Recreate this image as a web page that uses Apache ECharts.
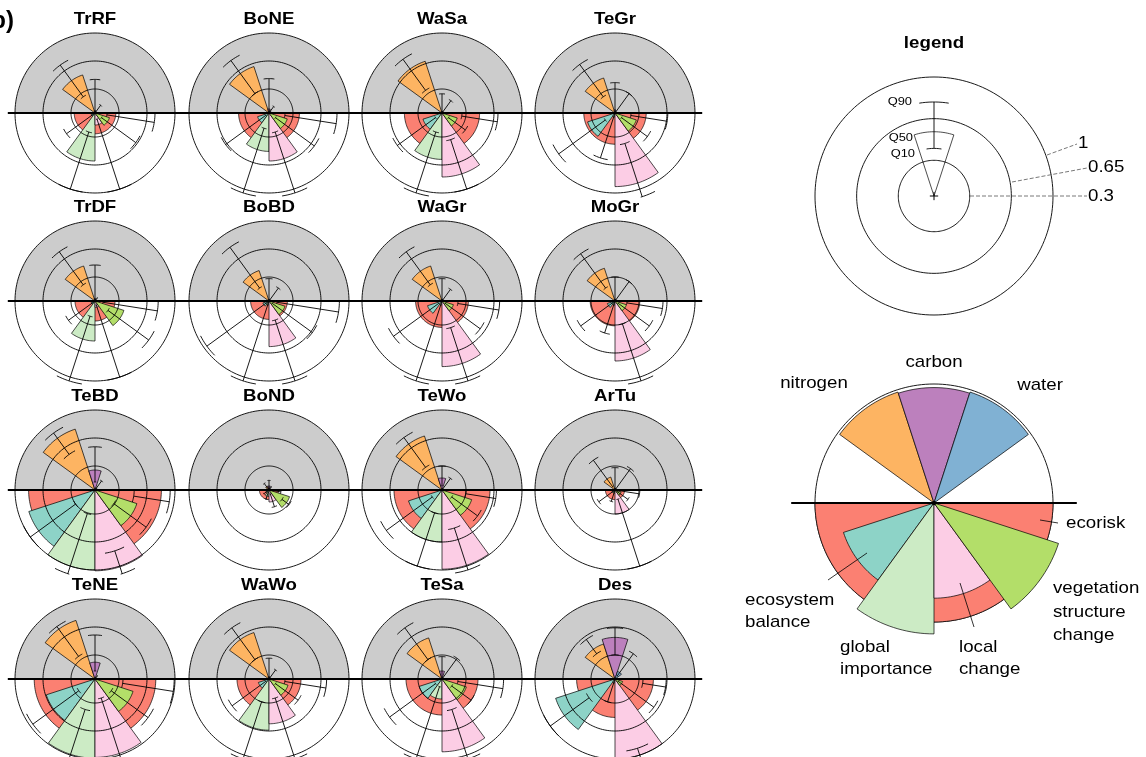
<!DOCTYPE html>
<html>
<head>
<meta charset="utf-8">
<script src="https://cdn.jsdelivr.net/npm/echarts@6/dist/echarts.min.js"></script>
<style>
html,body{margin:0;padding:0;background:#fff}
#main{width:1146px;height:757px}
</style>
</head>
<body>
<div id="main"></div>
<script>
// biomes, in panel order (row by row)
var biomes = ['TrRF','BoNE','WaSa','TeGr','TrDF','BoBD','WaGr','MoGr','TeBD','BoND','TeWo','ArTu','TeNE','WaWo','TeSa','Des'];
var variables = ['nitrogen','carbon','water','ecorisk','ecosystem balance','global importance','local change','vegetation structure change'];

// Q10 / Q50 / Q90 per variable, one value per biome
var nitrogenQ10 = [0.25,0.30,0.35,0.25,0.25,0.20,0.25,0.20,0.55,0.02,0.35,0.05,0.35,0.30,0.30,0.39];
var nitrogenQ50 = [0.50,0.61,0.68,0.46,0.46,0.40,0.46,0.43,0.80,0.05,0.71,0.17,0.77,0.61,0.54,0.46];
var nitrogenQ90 = [0.74,0.81,0.83,0.75,0.76,0.83,0.76,0.73,0.88,0.10,0.81,0.46,0.81,0.79,0.79,0.61];

var carbonQ10 = [0,0,0,0,0,0,0,0,0.10,0.02,0.05,0,0.10,0,0.03,0.30];
var carbonQ50 = [0.03,0.05,0.02,0.04,0.03,0.02,0.02,0.02,0.25,0.05,0.15,0.02,0.21,0.03,0.10,0.52];
var carbonQ90 = [0.42,0.43,0.24,0.38,0.45,0.28,0.28,0.30,0.54,0.12,0.30,0.28,0.55,0.26,0.28,0.64];

var waterQ10 = [0,0,0,0,0,0,0,0,0,0,0,0,0,0,0,0.05];
var waterQ50 = [0.02,0.03,0.02,0.02,0.02,0.02,0.02,0.02,0.03,0.02,0.02,0.02,0.02,0.02,0.02,0.10];
var waterQ90 = [0.12,0.10,0.19,0.30,0.05,0.20,0.18,0.30,0.14,0.05,0.18,0.33,0.05,0.14,0.32,0.39];

var ecoriskQ10 = [0.15,0.20,0.25,0.20,0.10,0.10,0.20,0.15,0.49,0.05,0.30,0.05,0.35,0.20,0.20,0.35];
var ecoriskQ50 = [0.26,0.38,0.47,0.39,0.25,0.23,0.33,0.31,0.83,0.12,0.60,0.12,0.76,0.40,0.45,0.48];
var ecoriskQ90 = [0.75,0.85,0.70,0.66,0.79,0.88,0.72,0.60,0.94,0.15,0.68,0.31,0.99,0.72,0.77,0.64];

var balanceQ10 = [0.02,0.05,0.10,0.15,0.02,0.02,0.05,0.03,0.30,0.02,0.15,0.02,0.25,0.05,0.10,0.40];
var balanceQ50 = [0.05,0.15,0.25,0.36,0.05,0.08,0.19,0.10,0.87,0.04,0.44,0.04,0.64,0.14,0.30,0.78];
var balanceQ90 = [0.44,0.67,0.69,0.87,0.41,0.96,0.75,0.53,1.00,0.08,0.86,0.25,0.96,0.57,0.81,1.00];

var globalQ10 = [0.25,0.20,0.25,0.02,0.20,0.02,0.02,0.02,0.31,0.03,0.30,0.02,0.40,0.30,0.10,0.02];
var globalQ50 = [0.60,0.48,0.58,0.05,0.50,0.05,0.05,0.05,1.00,0.08,0.65,0.04,0.99,0.64,0.25,0.05];
var globalQ90 = [1.00,1.05,1.05,0.59,1.05,1.05,1.05,0.42,1.10,0.12,1.00,0.15,1.10,1.05,1.05,0.30];

var localQ10 = [0.08,0.25,0.35,0.40,0.05,0.25,0.35,0.30,0.80,0.05,0.50,0.12,0.25,0.25,0.40,0.91];
var localQ50 = [0.15,0.60,0.80,0.92,0.08,0.57,0.82,0.75,1.01,0.15,0.99,0.30,0.98,0.56,0.91,1.00];
var localQ90 = [1.00,1.05,1.00,1.10,1.00,1.05,1.05,1.05,1.10,0.22,1.05,1.00,1.10,1.05,1.05,1.15];

var vegetationQ10 = [0.10,0.10,0.10,0.10,0.20,0.05,0.05,0.05,0.29,0.20,0.15,0.03,0.25,0.10,0.15,0.05];
var vegetationQ50 = [0.19,0.24,0.20,0.28,0.38,0.21,0.15,0.15,0.55,0.27,0.39,0.08,0.50,0.25,0.32,0.10];
var vegetationQ90 = [0.63,0.70,0.36,0.50,0.83,0.67,0.59,0.53,0.79,0.31,0.55,0.20,0.82,0.45,0.45,0.60];

// reference rings and their labels
var rings = [0.3, 0.65, 1];
var ringLabels = ['0.3', '0.65', '1'];
// legend example: Q10, Q50, Q90
var legendQ = [0.40, 0.54, 0.79];
var legendQLabels = ['Q10', 'Q50', 'Q90'];
// schematic rose, radius per variable
var roseRadius = [0.98, 0.97, 0.98, 1.0, 0.8, 1.1, 0.8, 1.1];

var Q10 = [nitrogenQ10, carbonQ10, waterQ10, ecoriskQ10, balanceQ10, globalQ10, localQ10, vegetationQ10];
var Q50 = [nitrogenQ50, carbonQ50, waterQ50, ecoriskQ50, balanceQ50, globalQ50, localQ50, vegetationQ50];
var Q90 = [nitrogenQ90, carbonQ90, waterQ90, ecoriskQ90, balanceQ90, globalQ90, localQ90, vegetationQ90];

var colors = ['#FDB462','#BC80BD','#80B1D3','#FB8072','#8DD3C7','#CCEBC5','#FCCDE5','#B3DE69'];
// angle of each variable, degrees counter-clockwise from east
var angles = [126, 90, 54, 351, 216, 252, 288, 324];
var drawOrder = [3, 0, 1, 2, 4, 5, 6, 7];

var cols = [95, 269, 442, 615];
var rows = [113, 301, 490, 679];
var R = 80;
var FONT = '"Liberation Sans", Arial, Helvetica, sans-serif';

var polar = [], angleAxis = [], radiusAxis = [], series = [], graphic = [];

function addPolar(cx, cy, r) {
  var i = polar.length;
  polar.push({center: [cx, cy], radius: r});
  angleAxis.push({polarIndex: i, type: 'value', min: 0, max: 360, startAngle: 0, clockwise: false,
    show: false, axisLine: {show: false}, splitLine: {show: false}, axisLabel: {show: false}, axisTick: {show: false}});
  radiusAxis.push({polarIndex: i, type: 'value', min: 0, max: 1,
    show: false, axisLine: {show: false}, splitLine: {show: false}, axisLabel: {show: false}, axisTick: {show: false}});
  return i;
}

function arc(api, r, a1, a2) {
  var n = Math.max(2, Math.ceil(Math.abs(a2 - a1) / 2));
  var pts = [];
  for (var k = 0; k <= n; k++) pts.push(api.coord([r, a1 + (a2 - a1) * k / n]));
  return pts;
}

var lineStyle = function (w, dash) { return {stroke: '#000', lineWidth: w, fill: null, lineDash: dash || null}; };

function renderHalf(params, api) {
  var pts = [api.coord([0, 0])].concat(arc(api, api.value(0), 0, 180));
  return {type: 'polygon', shape: {points: pts}, style: {fill: '#CCCCCC', stroke: null}};
}

function renderSector(params, api) {
  var idx = api.value(4), a = api.value(1), r = api.value(0);
  var a1 = idx === 3 ? 180 : a - 18, a2 = idx === 3 ? 360 : a + 18;
  var pts = [api.coord([0, a])].concat(arc(api, r, a1, a2));
  return {type: 'polygon', shape: {points: pts},
    style: {fill: api.value(5) ? colors[idx] : null, stroke: '#000', lineWidth: 0.7}};
}

function renderRing(params, api) {
  return {type: 'polyline', shape: {points: arc(api, api.value(0), 0, 360)}, style: lineStyle(0.9)};
}

// whiskers are cut at the lower edge of each panel's plot region (1.06 radius below centre)
function renderWhisker(params, api) {
  var a = api.value(1), lo = api.value(2), hi = api.value(3);
  var c = api.coord([0, 0]);
  var yMax = c[1] + 1.06 * (api.coord([1, 0])[0] - c[0]);
  var p1 = api.coord([lo, a]), p2 = api.coord([hi, a]);
  var kids = [];
  if (p2[1] > yMax) {
    var t = (yMax - p1[1]) / (p2[1] - p1[1]);
    p2 = [p1[0] + t * (p2[0] - p1[0]), yMax];
  }
  kids.push({type: 'polyline', shape: {points: [p1, p2]}, style: lineStyle(0.9)});
  [lo, hi].forEach(function (r) {
    var pts = arc(api, r, a - 9, a + 9).filter(function (q) { return q[1] <= yMax; });
    if (pts.length > 1) kids.push({type: 'polyline', shape: {points: pts}, style: lineStyle(0.9)});
  });
  return {type: 'group', children: kids};
}

function renderAxis(params, api) {
  var r = api.value(0);
  return {type: 'line', shape: {
      x1: api.coord([r, 180])[0], y1: api.coord([r, 180])[1],
      x2: api.coord([r, 0])[0], y2: api.coord([r, 0])[1]},
    style: {stroke: '#000', lineWidth: 2}};
}

function renderCross(params, api) {
  var r = api.value(0);
  return {type: 'group', children: [
    {type: 'polyline', shape: {points: [api.coord([r, 180]), api.coord([r, 0])]}, style: lineStyle(1)},
    {type: 'polyline', shape: {points: [api.coord([r, 90]), api.coord([r, 270])]}, style: lineStyle(1)}
  ]};
}

function renderDot(params, api) {
  var c = api.coord([0, 0]);
  return {type: 'circle', shape: {cx: c[0], cy: c[1], r: 2.2}, style: {fill: '#000'}};
}

function custom(p, z, data, fn) {
  series.push({type: 'custom', coordinateSystem: 'polar', polarIndex: p, z: z, silent: true,
    animation: false, data: data, renderItem: fn});
}

function label(text, x, y, o) {
  o = o || {};
  graphic.push({type: 'text', x: x, y: y, scaleX: o.sx || 1.1, z: 100, silent: true,
    style: {text: text, fontSize: o.size || 17, fontWeight: o.bold ? 'bold' : 'normal', fontFamily: FONT,
      fill: '#000', textAlign: o.align || 'left', align: o.align || 'left',
      textVerticalAlign: 'middle', verticalAlign: 'middle'}});
}

function seg(x1, y1, x2, y2, dashed) {
  graphic.push({type: 'line', z: 100, silent: true, shape: {x1: x1, y1: y1, x2: x2, y2: y2},
    style: {stroke: dashed ? '#555' : '#000', lineWidth: 0.8, lineDash: dashed ? [4, 2] : null}});
}

// ---- small multiples ----
biomes.forEach(function (name, b) {
  var cx = cols[b % 4], cy = rows[Math.floor(b / 4)];
  var p = addPolar(cx, cy, R);
  var items = drawOrder.map(function (v) {
    return [Q50[v][b], angles[v], Q10[v][b], Q90[v][b], v, 1];
  });
  custom(p, 1, [[1, 90]], renderHalf);
  custom(p, 2, items, renderSector);
  custom(p, 3, rings.map(function (r) { return [r, 0]; }), renderRing);
  custom(p, 4, items, renderWhisker);
  custom(p, 5, [[1.09, 0]], renderAxis);
  label(name, cx, cy - 93.5, {bold: true, size: 16.5, align: 'center', sx: 1.13});
});

label('b)', 14, 21, {bold: true, size: 24, align: 'right', sx: 1});

// ---- legend: quantile key ----
var pl = addPolar(934, 196, 119);
custom(pl, 3, rings.map(function (r) { return [r, 0]; }), renderRing);
custom(pl, 4, [[legendQ[1], 90, legendQ[0], legendQ[2], 1, 0]], renderSector);
custom(pl, 4, [[legendQ[1], 90, legendQ[0], legendQ[2], 1, 0]], renderWhisker);
custom(pl, 4, [[0.035, 0]], renderCross);
label('legend', 934, 43, {bold: true, size: 17, align: 'center', sx: 1.1});
label(legendQLabels[2], 912, 102, {size: 11.5, align: 'right', sx: 1.12});
label(legendQLabels[1], 913, 138, {size: 11.5, align: 'right', sx: 1.12});
label(legendQLabels[0], 915, 154, {size: 11.5, align: 'right', sx: 1.12});
label(ringLabels[2], 1078, 143);
label(ringLabels[1], 1088, 167);
label(ringLabels[0], 1088, 196);
seg(1047, 155, 1077, 144, true);
seg(1012, 182, 1087, 168, true);
seg(970, 196, 1087, 196, true);

// ---- legend: variable rose ----
var pr = addPolar(934, 503, 119);
custom(pr, 1, [[1, 0]], renderRing);
custom(pr, 2, drawOrder.map(function (v) { return [roseRadius[v], angles[v], 0, 0, v, 1]; }), renderSector);
custom(pr, 5, [[1.2, 0]], renderAxis);
custom(pr, 6, [[0, 0]], renderDot);

label('nitrogen', 814, 383, {align: 'center'});
label('carbon', 934, 362, {align: 'center'});
label('water', 1040, 385, {align: 'center'});
label('ecorisk', 1066, 523);
label('vegetation', 1053, 588);
label('structure', 1053, 612);
label('change', 1053, 635);
label('local', 959, 647);
label('change', 959, 669);
label('global', 840, 647);
label('importance', 840, 669);
label('ecosystem', 745, 600);
label('balance', 745, 622);
seg(1040, 520, 1058, 523);
seg(960, 583, 974, 627);
seg(867, 553, 828, 580);

var chart = echarts.init(document.getElementById('main'));
chart.setOption({
  animation: false,
  backgroundColor: '#fff',
  polar: polar,
  angleAxis: angleAxis,
  radiusAxis: radiusAxis,
  series: series,
  graphic: {elements: graphic}
});
</script>
</body>
</html>
